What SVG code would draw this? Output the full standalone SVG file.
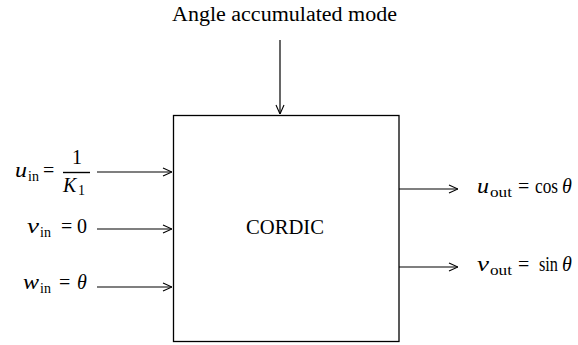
<svg xmlns="http://www.w3.org/2000/svg" width="578" height="345" viewBox="0 0 578 345">
<style>
text{font-family:"Liberation Serif","DejaVu Serif",serif;font-size:20px;fill:#000}
.i{font-style:italic}
.s{font-size:14px}
.c{stroke:#000;stroke-width:1.2;fill:none}
</style>
<defs>
<marker id="a" viewBox="0 0 10 10" refX="10" refY="5" markerWidth="10" markerHeight="10" markerUnits="userSpaceOnUse" orient="auto">
<path d="M1,1 L10,5 L1,9" fill="none" stroke="#000" stroke-width="1.1"/>
</marker>
</defs>
<rect width="578" height="345" fill="#fff"/>
<g id="cordic">
<rect x="173.5" y="115.5" width="225.5" height="226" fill="#fff" stroke="#000" stroke-width="1.3"/>
<text x="246" y="234" textLength="78" lengthAdjust="spacingAndGlyphs">CORDIC</text>
</g>
<g id="mode">
<text x="172" y="21" textLength="225" lengthAdjust="spacingAndGlyphs">Angle accumulated mode</text>
</g>
<g id="uin">
<text x="15" y="177" class="i" font-size="22" textLength="12" lengthAdjust="spacingAndGlyphs">u</text>
<text x="28" y="181" class="s">in</text>
<text x="43" y="177">=</text>
<text x="77" y="164" text-anchor="middle">1</text>
<line x1="63" y1="172.5" x2="90" y2="172.5" stroke="#000" stroke-width="1.4"/>
<text x="63" y="192" class="i">K</text><text x="78" y="195" class="s">1</text>
</g>
<g id="vin">
<text x="27" y="233" class="i" font-size="22" textLength="12" lengthAdjust="spacingAndGlyphs">v</text>
<text x="40" y="237" class="s">in</text>
<text x="61" y="233">=</text>
<text x="77" y="233">0</text>
</g>
<g id="win">
<text x="23" y="289" class="i" font-size="22" textLength="16" lengthAdjust="spacingAndGlyphs">w</text>
<text x="40" y="293" class="s">in</text>
<text x="59" y="289">=</text>
<text x="77" y="289" class="i">θ</text>
</g>
<g id="uout">
<text x="477" y="193" class="i" font-size="22" textLength="12" lengthAdjust="spacingAndGlyphs">u</text>
<text x="490" y="197" class="s" textLength="22" lengthAdjust="spacingAndGlyphs">out</text>
<text x="518" y="193">=</text>
<text x="535" y="193" textLength="23" lengthAdjust="spacingAndGlyphs">cos</text>
<text x="562" y="193" class="i">θ</text>
</g>
<g id="vout">
<text x="477" y="271" class="i" font-size="22" textLength="12" lengthAdjust="spacingAndGlyphs">v</text>
<text x="490" y="275" class="s" textLength="22" lengthAdjust="spacingAndGlyphs">out</text>
<text x="518" y="271">=</text>
<text x="539" y="271" textLength="19" lengthAdjust="spacingAndGlyphs">sin</text>
<text x="562" y="271" class="i">θ</text>
</g>
<g id="connectors">
<line class="c" x1="280" y1="40" x2="280" y2="114" marker-end="url(#a)"/>
<line class="c" x1="97" y1="172" x2="172" y2="172" marker-end="url(#a)"/>
<line class="c" x1="97" y1="229" x2="172" y2="229" marker-end="url(#a)"/>
<line class="c" x1="97" y1="287" x2="172" y2="287" marker-end="url(#a)"/>
<line class="c" x1="399" y1="189" x2="458" y2="189" marker-end="url(#a)"/>
<line class="c" x1="399" y1="267" x2="458" y2="267" marker-end="url(#a)"/>
</g>
</svg>
